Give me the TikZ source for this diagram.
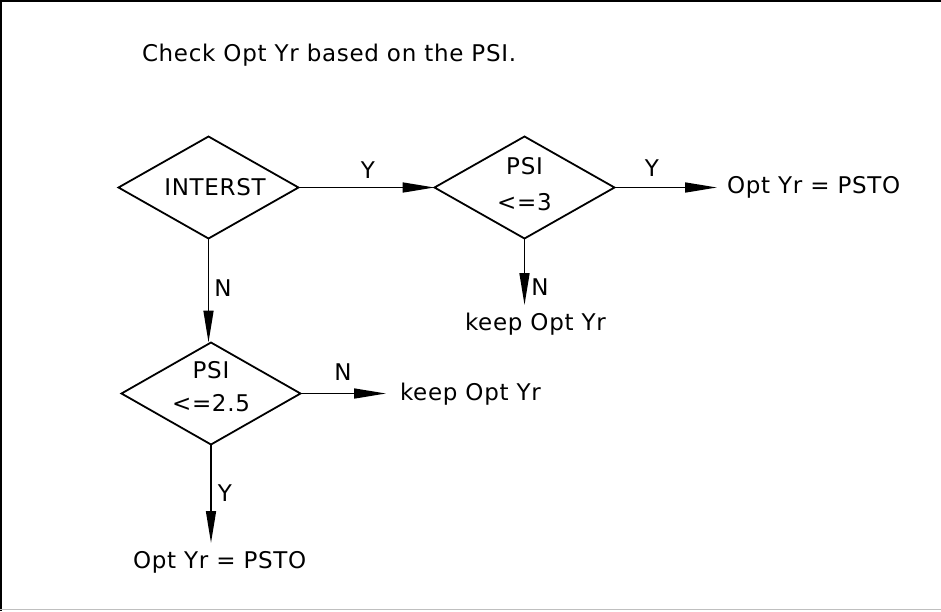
\documentclass[tikz,border=0pt]{standalone}
\usepackage{fontspec}
\setmainfont{DejaVu Sans}[LetterSpace=3]
\usetikzlibrary{shapes.geometric,arrows.meta}
\begin{document}
\begin{tikzpicture}[x=1pt,y=-1pt,
  every node/.style={font=\fontsize{23}{27}\selectfont, inner sep=0pt, outer sep=0pt},
  dec/.style={draw, diamond, line width=1.8pt, aspect=1.76, minimum width=180pt,
    minimum height=102pt},
  dectext/.style={align=center},
  txt/.style={anchor=base west},
  lab/.style={anchor=center},
  conn/.style={line width=1.6pt, -{Triangle[length=32pt,width=10pt]}}
]
\useasboundingbox (0,0) rectangle (941,611);
% frame
\draw[line width=2pt] (0,1) -- (941,1);
\draw[line width=2pt] (1,0) -- (1,611);
\draw[black!25, line width=1pt] (0,609.5) -- (941,609.5);

% title
\node[txt] (title) at (142,61.4) {Check Opt Yr based on the PSI.};

% decisions
\node[dec] (int) at (208.5,187.5) {};
\node[dec] (p3) at (524.5,187.5) {};
\node[dec, minimum width=179pt] (p25) at (211,393.5) {};
\node[dectext] (intt) at (215,187.5) {INTERST};
\node[dectext, font=\fontsize{23}{36}\selectfont] (p3t) at (p3.center) {PSI\\<=3\rule[-8pt]{0pt}{8pt}};
\node[dectext, font=\fontsize{23}{33}\selectfont] (p25t) at (p25.center) {PSI\\<=2.5\rule[-14pt]{0pt}{14pt}};

% outcomes
\node[txt] (o1) at (727,193.4) {Opt Yr = PSTO};
\node[txt] (k1) at (465,330.4) {keep Opt Yr};
\node[txt] (k2) at (400,400) {keep Opt Yr};
\node[txt] (o2) at (133,568.4) {Opt Yr = PSTO};

% connectors
\draw[conn] (int.east) -- (int.east -| p3.west);
\draw[conn] (int.south) -- (int.south |- p25.north);
\draw[conn, shorten >=10pt] (p3.east) -- (p3.east -| o1.west);
\coordinate (k1top) at (523,305);
\draw[conn] (p3.south) -- (p3.south |- k1top);
\draw[conn, shorten >=14pt] (p25.east) -- (p25.east -| k2.west);
\coordinate (o2top) at (211,543);
\draw[conn] (p25.south) -- (p25.south |- o2top);

% labels
\node[lab] (ly1) at (368,170) {Y};
\node[lab] (ly2) at (652,168) {Y};
\node[lab] (ln1) at (223,288) {N};
\node[lab] (ln2) at (540,287) {N};
\node[lab] (ln3) at (343,372) {N};
\node[lab] (ly3) at (225,493) {Y};
\end{tikzpicture}
\end{document}
